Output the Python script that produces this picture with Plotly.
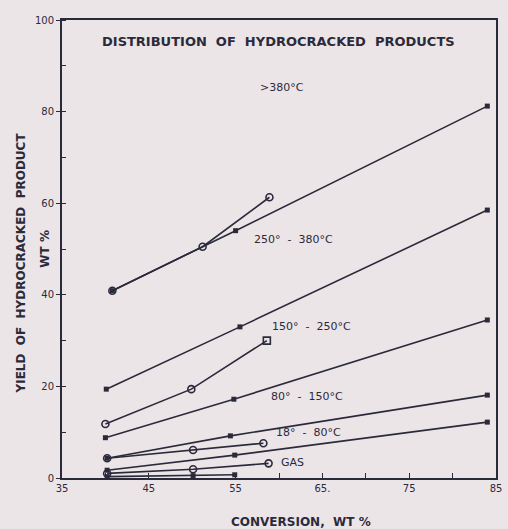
import plotly.graph_objects as go

# ---- data ----
conv_gt380_a = [40.8, 55.0, 84.0]
yield_gt380_a = [40.9, 54.0, 81.2]
conv_gt380_b = [40.8, 51.2, 58.9]
yield_gt380_b = [40.9, 50.5, 61.3]

conv_250_380_a = [40.1, 55.5, 84.0]
yield_250_380_a = [19.4, 33.0, 58.5]

conv_150_250_a = [40.0, 54.8, 84.0]
yield_150_250_a = [8.8, 17.2, 34.5]
conv_150_250_b = [40.0, 49.9, 58.6]
yield_150_250_b = [11.8, 19.4, 30.0]

conv_80_150_a = [40.2, 54.4, 84.0]
yield_80_150_a = [4.3, 9.2, 18.1]
conv_80_150_b = [40.2, 50.1, 58.2]
yield_80_150_b = [4.3, 6.1, 7.6]

conv_18_80_a = [40.2, 54.9, 84.0]
yield_18_80_a = [1.7, 5.0, 12.2]

conv_gas_b = [40.2, 50.1, 58.8]
yield_gas_b = [1.0, 1.9, 3.2]
conv_gas_a = [40.2, 50.1, 54.9]
yield_gas_a = [0.3, 0.5, 0.7]

x_tick_vals = [35, 45, 55, 65, 75, 85]
x_tick_text = ["35", "45", "55", "65.", "75", "85"]
y_tick_vals = [0, 20, 40, 60, 80, 100]

title_text = "DISTRIBUTION  OF  HYDROCRACKED  PRODUCTS"
series_labels = [">380°C", "250°  -  380°C", "150°  -  250°C", "80°  -  150°C", "18°  -  80°C", "GAS"]
x_title = "CONVERSION,  WT %"
y_title = "YIELD  OF  HYDROCRACKED  PRODUCT"
y_unit = "WT %"

INK = "#2b2a3a"
BG = "#ebe5e8"

fig = go.Figure()

filled = [
    (conv_gt380_a, yield_gt380_a),
    (conv_250_380_a, yield_250_380_a),
    (conv_150_250_a, yield_150_250_a),
    (conv_80_150_a, yield_80_150_a),
    (conv_18_80_a, yield_18_80_a),
    (conv_gas_a, yield_gas_a),
]
opened = [
    (conv_gt380_b, yield_gt380_b),
    (conv_150_250_b, yield_150_250_b),
    (conv_80_150_b, yield_80_150_b),
    (conv_gas_b, yield_gas_b),
]

for xs, ys in filled:
    fig.add_trace(go.Scatter(
        x=xs, y=ys, mode="lines+markers",
        line=dict(color=INK, width=1.6),
        marker=dict(symbol="square", size=5, color=INK),
        showlegend=False, cliponaxis=False,
    ))

for i, (xs, ys) in enumerate(opened):
    symbols = ["circle-open"] * len(xs)
    if i == 1:
        symbols[-1] = "square-open"
    fig.add_trace(go.Scatter(
        x=xs, y=ys, mode="lines+markers",
        line=dict(color=INK, width=1.6),
        marker=dict(symbol=symbols, size=7, color=INK, line=dict(width=1.6, color=INK)),
        showlegend=False, cliponaxis=False,
    ))

lab_font = dict(family="DejaVu Sans", size=11, color=INK)
label_pos = [(57.6, 85.2), (56.9, 52.0), (59.0, 33.0), (58.9, 17.7), (59.4, 10.0), (60.0, 3.3)]
for text, (lx, ly) in zip(series_labels, label_pos):
    fig.add_annotation(x=lx, y=ly, text=text, showarrow=False,
                       xanchor="left", yanchor="middle", font=lab_font)

fig.add_annotation(x=59.9, y=95.2, text="<b>" + title_text + "</b>", showarrow=False,
                   xanchor="center", yanchor="middle",
                   font=dict(family="DejaVu Sans", size=13, color=INK))

fig.add_annotation(xref="paper", yref="paper", x=-0.095, y=0.47, text="<b>" + y_title + "</b>",
                   showarrow=False, textangle=-90, xanchor="center", yanchor="middle",
                   font=dict(family="DejaVu Sans", size=12, color=INK))
fig.add_annotation(xref="paper", yref="paper", x=-0.04, y=0.5, text="<b>" + y_unit + "</b>",
                   showarrow=False, textangle=-90, xanchor="center", yanchor="middle",
                   font=dict(family="DejaVu Sans", size=12, color=INK))
fig.add_annotation(xref="paper", yref="paper", x=0.55, y=-0.095, text="<b>" + x_title + "</b>",
                   showarrow=False, xanchor="center", yanchor="middle",
                   font=dict(family="DejaVu Sans", size=12, color=INK))

fig.update_xaxes(
    range=[35, 85], tickvals=x_tick_vals, ticktext=x_tick_text,
    ticks="inside", ticklen=5, tickcolor=INK,
    minor=dict(dtick=5, ticks="inside", ticklen=5, tickcolor=INK),
    showline=True, linecolor=INK, linewidth=2, mirror=True,
    showgrid=False, zeroline=False,
    tickfont=dict(family="DejaVu Sans", size=10, color=INK),
)
fig.update_yaxes(
    range=[0, 100], tickvals=y_tick_vals,
    ticks="outside", ticklen=4, tickcolor=INK,
    minor=dict(dtick=10, ticks="inside", ticklen=4, tickcolor=INK),
    showline=True, linecolor=INK, linewidth=2, mirror=True,
    showgrid=False, zeroline=False,
    tickfont=dict(family="DejaVu Sans", size=10, color=INK),
)

fig.update_layout(
    width=508, height=529,
    margin=dict(l=62, r=6, t=20, b=51),
    paper_bgcolor=BG, plot_bgcolor=BG,
)

fig.write_html(
    "out.html",
    config={"displayModeBar": False},
    post_script="document.body.style.margin='0';document.body.style.background='" + BG + "';document.body.style.overflow='hidden';",
)
